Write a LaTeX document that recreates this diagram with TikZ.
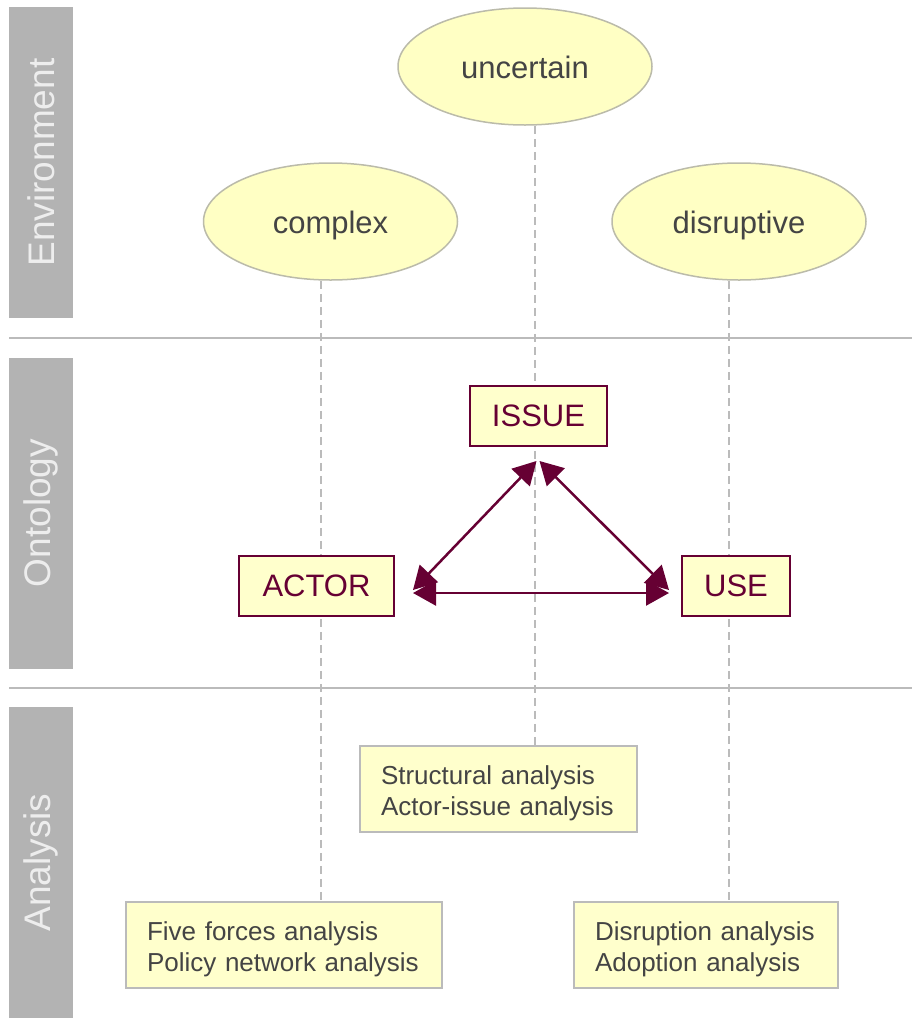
\documentclass[tikz,border=0pt]{standalone}
\usepackage{fontspec}
\setmainfont{Liberation Sans}
\usetikzlibrary{arrows.meta,shapes.geometric,backgrounds}
\definecolor{bar}{HTML}{B3B3B3}
\definecolor{bartext}{HTML}{EDEDED}
\definecolor{sep}{HTML}{BBBBBB}
\definecolor{ell}{HTML}{FFFFC4}
\definecolor{ellb}{HTML}{BBBBAA}
\definecolor{maroon}{HTML}{660033}
\definecolor{boxfill}{HTML}{FFFFCC}
\definecolor{txt}{HTML}{444444}
\newcommand{\lowstrut}{\rule{0pt}{27pt}}
\tikzset{
  sidebar/.style={fill=bar, draw=none, minimum width=64pt, minimum height=311pt, inner sep=0pt},
  sidetext/.style={text=bartext, font=\fontsize{37}{40}\selectfont, rotate=90},
  env/.style={ellipse, fill=ell, draw=ellb, line width=1.5pt, minimum width=254pt, minimum height=117pt, inner sep=0pt, text=txt, text height=23pt, text depth=0pt, font=\fontsize{31}{36}\selectfont},
  onto/.style={rectangle, fill=boxfill, draw=maroon, line width=2pt, minimum height=60pt, inner sep=0pt, text=maroon, font=\fontsize{31}{36}\selectfont},
  anabox/.style={rectangle, fill=boxfill, draw=sep, line width=2pt, minimum height=86pt, inner xsep=21pt, inner ysep=0pt, align=left, text=txt, font=\fontsize{26}{31.5}\selectfont},
  sepline/.style={draw=sep, line width=2pt},
  guide/.style={draw=sep, line width=2pt, dash pattern=on 8pt off 5pt},
  arr/.style={draw=maroon, line width=2.5pt, {Triangle[length=23pt,width=25pt]}-{Triangle[length=23pt,width=25pt]}}
}
\begin{document}
\begin{tikzpicture}[x=1pt,y=-1pt]
\useasboundingbox (0,0) rectangle (912,1034);
% side bars
\node[sidebar] (b1) at (41,162.5) {};
\node[sidetext] (t1) at (b1.center) {Environment};
\node[sidebar] (b2) at (41,513) {};
\node[sidetext] (t2) at (b2.center) {Ontology};
\node[sidebar] (b3) at (41,862.5) {};
\node[sidetext] (t3) at (b3.center) {Analysis};
% separators
\coordinate (s1a) at (9,338); \coordinate (s1b) at (912,338);
\coordinate (s2a) at (9,688); \coordinate (s2b) at (912,688);
\draw[sepline] (s1a) -- (s1b);
\draw[sepline] (s2a) -- (s2b);
% environment
\node[env] (unc) at (525,66.5) {uncertain};
\node[env] (cpx) at (330.5,221.5) {complex};
\node[env] (dis) at (739,221.5) {disruptive};
% ontology
\node[onto, minimum width=137pt] (issue) at (538.5,416) {ISSUE};
\node[onto, minimum width=155pt] (actor) at (316.5,586) {ACTOR};
\node[onto, minimum width=108pt] (use) at (736,586) {USE};
% analysis
\node[anabox, text width=235pt] (struct) at (498.5,789) {\lowstrut Structural analysis\\Actor-issue analysis};
\node[anabox, text width=274pt] (five) at (284,945) {\lowstrut Five forces analysis\\Policy network analysis};
\node[anabox, text width=222pt] (disr) at (706,945) {\lowstrut Disruption analysis\\Adoption analysis};
% guide lines
\coordinate (g1) at (321,0);
\coordinate (g2) at (535,0);
\coordinate (g3) at (729,0);
\begin{scope}[on background layer]
\draw[guide] (cpx.south -| g1) -- (five.north -| g1);
\draw[guide] (unc.south -| g2) -- (struct.north -| g2);
\draw[guide] (dis.south -| g3) -- (disr.north -| g3);
\end{scope}
% arrows
\draw[arr] ([xshift=-2pt,yshift=-14pt]issue.south) -- ([xshift=18pt,yshift=-4pt]actor.east);
\draw[arr] ([xshift=1pt,yshift=-14pt]issue.south) -- ([xshift=-12pt,yshift=-4pt]use.west);
\draw[arr] ([xshift=18pt,yshift=-7pt]actor.east) -- ([xshift=-12pt,yshift=-7pt]use.west);
\end{tikzpicture}
\end{document}
